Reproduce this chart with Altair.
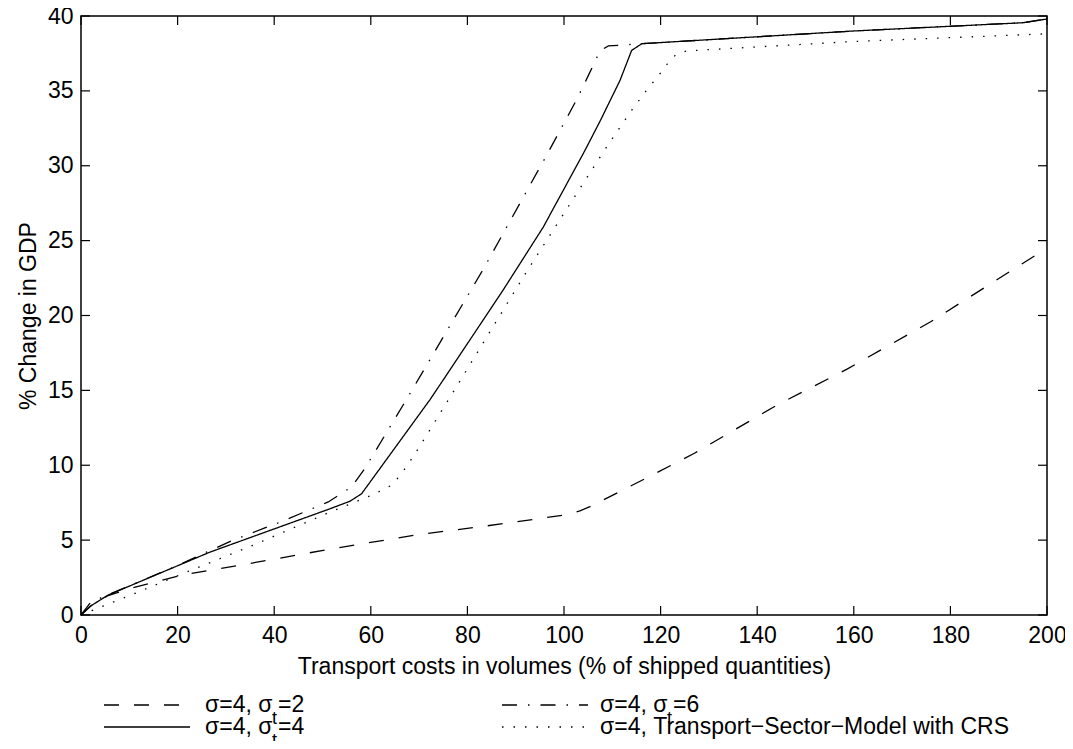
import altair as alt
import pandas as pd

FONT = "Liberation Sans"
FS = 23

# ---------------- data ----------------
series_names = ["s2", "s4", "s6", "crs"]

x_s2 = [0, 2, 5.6, 10, 21, 33, 51.6, 70, 84, 100, 103.3, 106, 118, 127, 144, 158.5, 176, 198.5, 200]
y_s2 = [0, 0.6, 1.3, 1.75, 2.67, 3.33, 4.4, 5.38, 5.95, 6.67, 6.95, 7.33, 9.3, 10.8, 14.0, 16.4, 19.6, 24.2, 24.5]

x_s4 = [0, 2, 5.6, 26.7, 51.6, 55.7, 58.1, 72.3, 75, 87.4, 95.7, 104.3, 107.5, 111.6, 114, 116.1, 160, 195, 200]
y_s4 = [0, 0.6, 1.33, 4.2, 7.1, 7.6, 8.1, 14.4, 15.7, 21.7, 25.9, 31.0, 33.0, 35.7, 37.7, 38.15, 39.0, 39.55, 39.8]

x_s6 = [0, 2, 5.6, 20, 25.3, 31.5, 41.2, 51.2, 56, 58.8, 67.4, 83.3, 96.4, 102.6, 105, 107.5, 109.2, 116.1, 160, 195, 200]
y_s6 = [0, 0.85, 1.35, 3.3, 4.1, 5.0, 6.2, 7.55, 8.55, 9.8, 14.4, 23.1, 30.7, 34.4, 36.0, 37.7, 38.0, 38.15, 39.0, 39.55, 39.8]

x_crs = [0, 2.5, 9.5, 21.2, 34.9, 50.9, 60.2, 62.3, 64.5, 67.4, 70.2, 76.7, 92.3, 108.3, 114, 117, 120, 121.4, 123.1, 125.4, 160, 199.2, 200]
y_crs = [0, 0.33, 1.22, 2.78, 4.56, 6.78, 8.0, 8.33, 8.7, 9.9, 11.3, 14.7, 22.95, 31.0, 33.7, 35.0, 36.2, 36.8, 37.4, 37.67, 38.3, 38.8, 38.8]

x_ticks = [0, 20, 40, 60, 80, 100, 120, 140, 160, 180, 200]
y_ticks = [0, 5, 10, 15, 20, 25, 30, 35, 40]

legend_main = ["σ=4, σ", "σ=4, σ", "σ=4, σ", "σ=4, Transport−Sector−Model with CRS"]
legend_sub = ["t", "t", "t", ""]
legend_rest = ["=2", "=4", "=6", ""]

x_title = "Transport costs in volumes (% of shipped quantities)"
y_title = "% Change in GDP"

# ---------------- styles ----------------
dash_styles = [[15, 15], [1, 0], [15, 11, 1.5, 11], [1.5, 10]]

rows = []
for name, xs, ys in zip(series_names, [x_s2, x_s4, x_s6, x_crs], [y_s2, y_s4, y_s6, y_crs]):
    for i, (a, b) in enumerate(zip(xs, ys)):
        rows.append({"series": name, "x": a, "y": b, "order": i})
df = pd.DataFrame(rows)

W, H = 966, 599
TL = 9

xscale = alt.Scale(domain=[0, 200], nice=False, zero=False)
yscale = alt.Scale(domain=[0, 40], nice=False, zero=False)
x_axis = alt.Axis(values=x_ticks, title=x_title, labelPadding=9, titlePadding=8, format="d",
                  labelFlush=False, labelOverlap=False, labelBound=False)
y_axis = alt.Axis(values=y_ticks, title=y_title, labelPadding=8, titlePadding=7, format="d",
                  labelFlush=False, labelOverlap=False, labelBound=False)

lines = alt.Chart(df).mark_line(color="black", strokeWidth=1.3).encode(
    x=alt.X("x:Q", scale=xscale, axis=x_axis),
    y=alt.Y("y:Q", scale=yscale, axis=y_axis),
    strokeDash=alt.StrokeDash("series:N", scale=alt.Scale(domain=series_names, range=dash_styles), legend=None),
    detail="series:N",
    order="order:Q",
)

xt = pd.DataFrame({"x": x_ticks})
yt = pd.DataFrame({"y": y_ticks})

tick_b = alt.Chart(xt).mark_rule(color="black", strokeWidth=1.2).encode(
    x=alt.X("x:Q", scale=xscale, axis=x_axis), y=alt.value(H), y2=alt.value(H - TL))
tick_t = alt.Chart(xt).mark_rule(color="black", strokeWidth=1.2).encode(
    x=alt.X("x:Q", scale=xscale, axis=x_axis), y=alt.value(0), y2=alt.value(TL))
tick_l = alt.Chart(yt).mark_rule(color="black", strokeWidth=1.2).encode(
    y=alt.Y("y:Q", scale=yscale, axis=y_axis), x=alt.value(0), x2=alt.value(TL))
tick_r = alt.Chart(yt).mark_rule(color="black", strokeWidth=1.2).encode(
    y=alt.Y("y:Q", scale=yscale, axis=y_axis), x=alt.value(W), x2=alt.value(W - TL))

one = pd.DataFrame({"k": [0]})


def sample(x1, x2, y, dash):
    return alt.Chart(one).mark_rule(color="black", strokeWidth=1.3, strokeDash=dash).encode(
        x=alt.value(x1), x2=alt.value(x2), y=alt.value(y))


def txt(s, x, y, size=FS):
    return alt.Chart(one).mark_text(text=s, align="left", baseline="middle", font=FONT,
                                    fontSize=size, color="black").encode(
        x=alt.value(x), y=alt.value(y))


# legend layout: (sample x1, sample x2, text x, row y)
slots = [(23, 109, 124, 689), (23, 109, 124, 711), (421, 507, 519, 689), (421, 507, 519, 711)]
legend_layers = []
for i in range(4):
    sx1, sx2, tx, ry = slots[i]
    legend_layers.append(sample(sx1, sx2, ry, dash_styles[i]))
    legend_layers.append(txt(legend_main[i], tx, ry))
    if legend_sub[i]:
        legend_layers.append(txt(legend_sub[i], tx + 67, ry + 14, size=18))
        legend_layers.append(txt(legend_rest[i], tx + 73, ry))

chart = alt.layer(lines, tick_b, tick_t, tick_l, tick_r, *legend_layers).properties(
    width=W, height=H,
    padding={"left": 73, "top": 8, "right": 18, "bottom": 126},
    autosize=alt.AutoSizeParams(type="none"),
    background="white",
).configure_view(stroke="black", strokeWidth=1.5).configure_axis(
    labelFont=FONT, labelFontSize=FS, labelColor="black",
    titleFont=FONT, titleFontSize=FS, titleColor="black", titleFontWeight="normal",
    domain=False, ticks=False, grid=False,
)

chart.save("out.html", embed_options={"renderer": "svg", "actions": False})
